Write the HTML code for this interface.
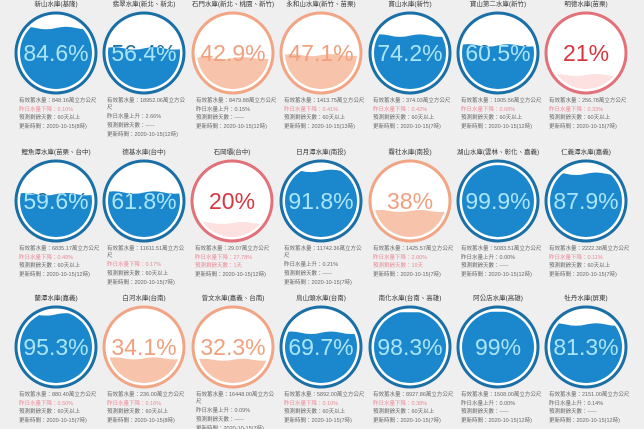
<!DOCTYPE html>
<html><head><meta charset="utf-8"><style>
html,body{margin:0;padding:0;background:#efefef;}
svg{display:block;font-family:"Liberation Sans","Noto Sans CJK TC",sans-serif;}
.pb{font-size:23px;text-anchor:middle;}
.lb{font-size:6.5px;text-anchor:middle;fill:#333;}
.in{font-size:5.5px;fill:#666;}
.pk{fill:#e98a96;}
</style></head><body>
<svg width="644" height="429" viewBox="0 0 644 429" xmlns="http://www.w3.org/2000/svg">
<rect width="644" height="429" fill="#efefef"/>
<defs>
<clipPath id="c1"><path transform="translate(0,-25)" d="M-40,0 q10,-2.5 20,0 t20,0 t20,0 t20,0 V90 H-40 Z"/></clipPath>
<clipPath id="c2"><path transform="translate(0,-4.6)" d="M-40,0 q10,-2.5 20,0 t20,0 t20,0 t20,0 V90 H-40 Z"/></clipPath>
<clipPath id="c3"><path transform="translate(0,5.1)" d="M-40,0 q10,-2 20,0 t20,0 t20,0 t20,0 V90 H-40 Z"/></clipPath>
<clipPath id="c4"><path transform="translate(0,2.1)" d="M-40,0 q10,-2 20,0 t20,0 t20,0 t20,0 V90 H-40 Z"/></clipPath>
<clipPath id="c5"><path transform="translate(0,-17.4)" d="M-40,0 q10,-2.5 20,0 t20,0 t20,0 t20,0 V90 H-40 Z"/></clipPath>
<clipPath id="c6"><path transform="translate(0,-7.6)" d="M-40,0 q10,-2.5 20,0 t20,0 t20,0 t20,0 V90 H-40 Z"/></clipPath>
<clipPath id="c7"><path transform="translate(0,22)" d="M-40,0 q10,-2 20,0 t20,0 t20,0 t20,0 V90 H-40 Z"/></clipPath>
<clipPath id="c8"><path transform="translate(0,-6.9)" d="M-40,0 q10,-2.5 20,0 t20,0 t20,0 t20,0 V90 H-40 Z"/></clipPath>
<clipPath id="c9"><path transform="translate(0,-8.5)" d="M-40,0 q10,-2.5 20,0 t20,0 t20,0 t20,0 V90 H-40 Z"/></clipPath>
<clipPath id="c10"><path transform="translate(0,22)" d="M-40,0 q10,-2 20,0 t20,0 t20,0 t20,0 V90 H-40 Z"/></clipPath>
<clipPath id="c11"><path transform="translate(0,-30.1)" d="M-40,0 q10,-2.5 20,0 t20,0 t20,0 t20,0 V90 H-40 Z"/></clipPath>
<clipPath id="c12"><path transform="translate(0,10)" d="M-40,0 q10,-2 20,0 t20,0 t20,0 t20,0 V90 H-40 Z"/></clipPath>
<clipPath id="c13"><path transform="translate(0,-35.9)" d="M-40,0 V90 H40 V0 Z"/></clipPath>
<clipPath id="c14"><path transform="translate(0,-27.3)" d="M-40,0 q10,-2.5 20,0 t20,0 t20,0 t20,0 V90 H-40 Z"/></clipPath>
<clipPath id="c15"><path transform="translate(0,-32.6)" d="M-40,0 q10,-2.5 20,0 t20,0 t20,0 t20,0 V90 H-40 Z"/></clipPath>
<clipPath id="c16"><path transform="translate(0,11.4)" d="M-40,0 q10,-2 20,0 t20,0 t20,0 t20,0 V90 H-40 Z"/></clipPath>
<clipPath id="c17"><path transform="translate(0,12.7)" d="M-40,0 q10,-2 20,0 t20,0 t20,0 t20,0 V90 H-40 Z"/></clipPath>
<clipPath id="c18"><path transform="translate(0,-14.2)" d="M-40,0 q10,-2.5 20,0 t20,0 t20,0 t20,0 V90 H-40 Z"/></clipPath>
<clipPath id="c19"><path transform="translate(0,-34.8)" d="M-40,0 V90 H40 V0 Z"/></clipPath>
<clipPath id="c20"><path transform="translate(0,-35.3)" d="M-40,0 V90 H40 V0 Z"/></clipPath>
<clipPath id="c21"><path transform="translate(0,-22.5)" d="M-40,0 q10,-2.5 20,0 t20,0 t20,0 t20,0 V90 H-40 Z"/></clipPath>
</defs>

<!-- Row 1 -->
<g transform="translate(56,53)">
<text class="lb" y="-47">新山水庫(基隆)</text>
<circle r="40" fill="#fff" stroke="#1a6fa6" stroke-width="3"/>
<text class="pb" y="8" fill="#1a6fa6">84.6%</text>
<circle r="36" fill="#1b87cc" clip-path="url(#c1)"/>
<text class="pb" y="8" fill="#a9e5f8" clip-path="url(#c1)">84.6%</text>
<text class="in" x="-37" y="49">有效蓄水量：848.16萬立方公尺</text>
<text class="in pk" x="-37" y="58">昨日水量下降：0.10%</text>
<text class="in" x="-37" y="66">預測剩餘天數：60天以上</text>
<text class="in" x="-37" y="75">更新時間：2020-10-15(8時)</text>
</g>
<g transform="translate(144,53)">
<text class="lb" y="-47">翡翠水庫(新北、新北)</text>
<circle r="40" fill="#fff" stroke="#1a6fa6" stroke-width="3"/>
<text class="pb" y="8" fill="#1a6fa6">56.4%</text>
<circle r="36" fill="#1b87cc" clip-path="url(#c2)"/>
<text class="pb" y="8" fill="#a9e5f8" clip-path="url(#c2)">56.4%</text>
<text class="in" x="-37" y="49">有效蓄水量：18952.06萬立方公</text>
<text class="in" x="-37" y="56">尺</text>
<text class="in" x="-37" y="65" fill="#5a7fb0">昨日水量上升：2.66%</text>
<text class="in" x="-37" y="74">預測剩餘天數：-----</text>
<text class="in" x="-37" y="83">更新時間：2020-10-15(12時)</text>
</g>
<g transform="translate(233,53)">
<text class="lb" y="-47">石門水庫(新北、桃園、新竹)</text>
<circle r="40" fill="#fff" stroke="#f2a584" stroke-width="3"/>
<circle r="36" fill="#f7c3aa" clip-path="url(#c3)"/>
<text class="pb" y="8" fill="#f0a07e">42.9%</text>
<text class="in" x="-37" y="49">有效蓄水量：8479.88萬立方公尺</text>
<text class="in" x="-37" y="58">昨日水量上升：0.15%</text>
<text class="in" x="-37" y="66">預測剩餘天數：-----</text>
<text class="in" x="-37" y="75">更新時間：2020-10-15(12時)</text>
</g>
<g transform="translate(321,53)">
<text class="lb" y="-47">永和山水庫(新竹、苗栗)</text>
<circle r="40" fill="#fff" stroke="#f2a584" stroke-width="3"/>
<circle r="36" fill="#f7c3aa" clip-path="url(#c4)"/>
<text class="pb" y="8" fill="#f0a07e">47.1%</text>
<text class="in" x="-37" y="49">有效蓄水量：1413.75萬立方公尺</text>
<text class="in pk" x="-37" y="58">昨日水量下降：0.41%</text>
<text class="in" x="-37" y="66">預測剩餘天數：60天以上</text>
<text class="in" x="-37" y="75">更新時間：2020-10-15(13時)</text>
</g>
<g transform="translate(410,53)">
<text class="lb" y="-47">寶山水庫(新竹)</text>
<circle r="40" fill="#fff" stroke="#1a6fa6" stroke-width="3"/>
<text class="pb" y="8" fill="#1a6fa6">74.2%</text>
<circle r="36" fill="#1b87cc" clip-path="url(#c5)"/>
<text class="pb" y="8" fill="#a9e5f8" clip-path="url(#c5)">74.2%</text>
<text class="in" x="-37" y="49">有效蓄水量：374.03萬立方公尺</text>
<text class="in pk" x="-37" y="58">昨日水量下降：0.42%</text>
<text class="in" x="-37" y="66">預測剩餘天數：60天以上</text>
<text class="in" x="-37" y="75">更新時間：2020-10-15(7時)</text>
</g>
<g transform="translate(498,53)">
<text class="lb" y="-47">寶山第二水庫(新竹)</text>
<circle r="40" fill="#fff" stroke="#1a6fa6" stroke-width="3"/>
<text class="pb" y="8" fill="#1a6fa6">60.5%</text>
<circle r="36" fill="#1b87cc" clip-path="url(#c6)"/>
<text class="pb" y="8" fill="#a9e5f8" clip-path="url(#c6)">60.5%</text>
<text class="in" x="-37" y="49">有效蓄水量：1905.56萬立方公尺</text>
<text class="in pk" x="-37" y="58">昨日水量下降：0.68%</text>
<text class="in" x="-37" y="66">預測剩餘天數：60天以上</text>
<text class="in" x="-37" y="75">更新時間：2020-10-15(12時)</text>
</g>
<g transform="translate(586,53)">
<text class="lb" y="-47">明德水庫(苗栗)</text>
<circle r="40" fill="#fff" stroke="#e2717a" stroke-width="3"/>
<circle r="36" fill="#fde0e0" clip-path="url(#c7)"/>
<text class="pb" y="8" fill="#d6363f">21%</text>
<text class="in" x="-37" y="49">有效蓄水量：256.78萬立方公尺</text>
<text class="in pk" x="-37" y="58">昨日水量下降：0.33%</text>
<text class="in" x="-37" y="66">預測剩餘天數：60天以上</text>
<text class="in" x="-37" y="75">更新時間：2020-10-15(7時)</text>
</g>

<!-- Row 2 -->
<g transform="translate(56,201)">
<text class="lb" y="-47">鯉魚潭水庫(苗栗、台中)</text>
<circle r="40" fill="#fff" stroke="#1a6fa6" stroke-width="3"/>
<text class="pb" y="8" fill="#1a6fa6">59.6%</text>
<circle r="36" fill="#1b87cc" clip-path="url(#c8)"/>
<text class="pb" y="8" fill="#a9e5f8" clip-path="url(#c8)">59.6%</text>
<text class="in" x="-37" y="49">有效蓄水量：6835.17萬立方公尺</text>
<text class="in pk" x="-37" y="58">昨日水量下降：0.49%</text>
<text class="in" x="-37" y="66">預測剩餘天數：60天以上</text>
<text class="in" x="-37" y="75">更新時間：2020-10-15(12時)</text>
</g>
<g transform="translate(144,201)">
<text class="lb" y="-47">德基水庫(台中)</text>
<circle r="40" fill="#fff" stroke="#1a6fa6" stroke-width="3"/>
<text class="pb" y="8" fill="#1a6fa6">61.8%</text>
<circle r="36" fill="#1b87cc" clip-path="url(#c9)"/>
<text class="pb" y="8" fill="#a9e5f8" clip-path="url(#c9)">61.8%</text>
<text class="in" x="-37" y="49">有效蓄水量：11611.51萬立方公</text>
<text class="in" x="-37" y="56">尺</text>
<text class="in pk" x="-37" y="65">昨日水量下降：0.17%</text>
<text class="in" x="-37" y="74">預測剩餘天數：60天以上</text>
<text class="in" x="-37" y="83">更新時間：2020-10-15(7時)</text>
</g>
<g transform="translate(232,201)">
<text class="lb" y="-47">石岡壩(台中)</text>
<circle r="40" fill="#fff" stroke="#e2717a" stroke-width="3"/>
<circle r="36" fill="#fde0e0" clip-path="url(#c10)"/>
<text class="pb" y="8" fill="#d6363f">20%</text>
<text class="in" x="-37" y="49">有效蓄水量：29.07萬立方公尺</text>
<text class="in pk" x="-37" y="58">昨日水量下降：27.78%</text>
<text class="in pk" x="-37" y="66">預測剩餘天數：1天</text>
<text class="in" x="-37" y="75">更新時間：2020-10-15(12時)</text>
</g>
<g transform="translate(321,201)">
<text class="lb" y="-47">日月潭水庫(南投)</text>
<circle r="40" fill="#fff" stroke="#1a6fa6" stroke-width="3"/>
<text class="pb" y="8" fill="#1a6fa6">91.8%</text>
<circle r="36" fill="#1b87cc" clip-path="url(#c11)"/>
<text class="pb" y="8" fill="#a9e5f8" clip-path="url(#c11)">91.8%</text>
<text class="in" x="-37" y="49">有效蓄水量：11742.36萬立方公</text>
<text class="in" x="-37" y="56">尺</text>
<text class="in" x="-37" y="65" fill="#5a7fb0">昨日水量上升：0.21%</text>
<text class="in" x="-37" y="74">預測剩餘天數：-----</text>
<text class="in" x="-37" y="83">更新時間：2020-10-15(7時)</text>
</g>
<g transform="translate(410,201)">
<text class="lb" y="-47">霧社水庫(南投)</text>
<circle r="40" fill="#fff" stroke="#f2a584" stroke-width="3"/>
<circle r="36" fill="#f7c3aa" clip-path="url(#c12)"/>
<text class="pb" y="8" fill="#f0a07e">38%</text>
<text class="in" x="-37" y="49">有效蓄水量：1425.57萬立方公尺</text>
<text class="in pk" x="-37" y="58">昨日水量下降：2.00%</text>
<text class="in pk" x="-37" y="66">預測剩餘天數：19天</text>
<text class="in" x="-37" y="75">更新時間：2020-10-15(7時)</text>
</g>
<g transform="translate(498,201)">
<text class="lb" y="-47">湖山水庫(雲林、彰化、嘉義)</text>
<circle r="40" fill="#fff" stroke="#1a6fa6" stroke-width="3"/>
<text class="pb" y="8" fill="#1a6fa6">99.9%</text>
<circle r="36" fill="#1b87cc" clip-path="url(#c13)"/>
<text class="pb" y="8" fill="#a9e5f8" clip-path="url(#c13)">99.9%</text>
<text class="in" x="-37" y="49">有效蓄水量：5083.51萬立方公尺</text>
<text class="in" x="-37" y="58" fill="#5a7fb0">昨日水量上升：0.00%</text>
<text class="in" x="-37" y="66">預測剩餘天數：-----</text>
<text class="in" x="-37" y="75">更新時間：2020-10-15(12時)</text>
</g>
<g transform="translate(586,201)">
<text class="lb" y="-47">仁義潭水庫(嘉義)</text>
<circle r="40" fill="#fff" stroke="#1a6fa6" stroke-width="3"/>
<text class="pb" y="8" fill="#1a6fa6">87.9%</text>
<circle r="36" fill="#1b87cc" clip-path="url(#c14)"/>
<text class="pb" y="8" fill="#a9e5f8" clip-path="url(#c14)">87.9%</text>
<text class="in" x="-37" y="49">有效蓄水量：2222.38萬立方公尺</text>
<text class="in pk" x="-37" y="58">昨日水量下降：0.11%</text>
<text class="in" x="-37" y="66">預測剩餘天數：60天以上</text>
<text class="in" x="-37" y="75">更新時間：2020-10-15(7時)</text>
</g>

<!-- Row 3 -->
<g transform="translate(56,347)">
<text class="lb" y="-47">蘭潭水庫(嘉義)</text>
<circle r="40" fill="#fff" stroke="#1a6fa6" stroke-width="3"/>
<text class="pb" y="8" fill="#1a6fa6">95.3%</text>
<circle r="36" fill="#1b87cc" clip-path="url(#c15)"/>
<text class="pb" y="8" fill="#a9e5f8" clip-path="url(#c15)">95.3%</text>
<text class="in" x="-37" y="49">有效蓄水量：880.40萬立方公尺</text>
<text class="in pk" x="-37" y="58">昨日水量下降：0.50%</text>
<text class="in" x="-37" y="66">預測剩餘天數：60天以上</text>
<text class="in" x="-37" y="75">更新時間：2020-10-15(7時)</text>
</g>
<g transform="translate(144,347)">
<text class="lb" y="-47">白河水庫(台南)</text>
<circle r="40" fill="#fff" stroke="#f2a584" stroke-width="3"/>
<circle r="36" fill="#f7c3aa" clip-path="url(#c16)"/>
<text class="pb" y="8" fill="#f0a07e">34.1%</text>
<text class="in" x="-37" y="49">有效蓄水量：236.00萬立方公尺</text>
<text class="in pk" x="-37" y="58">昨日水量下降：0.16%</text>
<text class="in" x="-37" y="66">預測剩餘天數：60天以上</text>
<text class="in" x="-37" y="75">更新時間：2020-10-15(8時)</text>
</g>
<g transform="translate(233,347)">
<text class="lb" y="-47">曾文水庫(嘉義、台南)</text>
<circle r="40" fill="#fff" stroke="#f2a584" stroke-width="3"/>
<circle r="36" fill="#f7c3aa" clip-path="url(#c17)"/>
<text class="pb" y="8" fill="#f0a07e">32.3%</text>
<text class="in" x="-37" y="49">有效蓄水量：16448.00萬立方公</text>
<text class="in" x="-37" y="56">尺</text>
<text class="in" x="-37" y="65" fill="#5a7fb0">昨日水量上升：0.09%</text>
<text class="in" x="-37" y="74">預測剩餘天數：-----</text>
<text class="in" x="-37" y="83">更新時間：2020-10-15(7時)</text>
</g>
<g transform="translate(321,347)">
<text class="lb" y="-47">烏山頭水庫(台南)</text>
<circle r="40" fill="#fff" stroke="#1a6fa6" stroke-width="3"/>
<text class="pb" y="8" fill="#1a6fa6">69.7%</text>
<circle r="36" fill="#1b87cc" clip-path="url(#c18)"/>
<text class="pb" y="8" fill="#a9e5f8" clip-path="url(#c18)">69.7%</text>
<text class="in" x="-37" y="49">有效蓄水量：5892.00萬立方公尺</text>
<text class="in pk" x="-37" y="58">昨日水量下降：0.10%</text>
<text class="in" x="-37" y="66">預測剩餘天數：60天以上</text>
<text class="in" x="-37" y="75">更新時間：2020-10-15(7時)</text>
</g>
<g transform="translate(410,347)">
<text class="lb" y="-47">南化水庫(台南、高雄)</text>
<circle r="40" fill="#fff" stroke="#1a6fa6" stroke-width="3"/>
<text class="pb" y="8" fill="#1a6fa6">98.3%</text>
<circle r="36" fill="#1b87cc" clip-path="url(#c19)"/>
<text class="pb" y="8" fill="#a9e5f8" clip-path="url(#c19)">98.3%</text>
<text class="in" x="-37" y="49">有效蓄水量：8927.86萬立方公尺</text>
<text class="in pk" x="-37" y="58">昨日水量下降：0.38%</text>
<text class="in" x="-37" y="66">預測剩餘天數：60天以上</text>
<text class="in" x="-37" y="75">更新時間：2020-10-15(7時)</text>
</g>
<g transform="translate(498,347)">
<text class="lb" y="-47">阿公店水庫(高雄)</text>
<circle r="40" fill="#fff" stroke="#1a6fa6" stroke-width="3"/>
<text class="pb" y="8" fill="#1a6fa6">99%</text>
<circle r="36" fill="#1b87cc" clip-path="url(#c20)"/>
<text class="pb" y="8" fill="#a9e5f8" clip-path="url(#c20)">99%</text>
<text class="in" x="-37" y="49">有效蓄水量：1508.00萬立方公尺</text>
<text class="in" x="-37" y="58" fill="#5a7fb0">昨日水量上升：0.00%</text>
<text class="in" x="-37" y="66">預測剩餘天數：-----</text>
<text class="in" x="-37" y="75">更新時間：2020-10-15(12時)</text>
</g>
<g transform="translate(586,347)">
<text class="lb" y="-47">牡丹水庫(屏東)</text>
<circle r="40" fill="#fff" stroke="#1a6fa6" stroke-width="3"/>
<text class="pb" y="8" fill="#1a6fa6">81.3%</text>
<circle r="36" fill="#1b87cc" clip-path="url(#c21)"/>
<text class="pb" y="8" fill="#a9e5f8" clip-path="url(#c21)">81.3%</text>
<text class="in" x="-37" y="49">有效蓄水量：2151.00萬立方公尺</text>
<text class="in" x="-37" y="58" fill="#5a7fb0">昨日水量上升：0.14%</text>
<text class="in" x="-37" y="66">預測剩餘天數：-----</text>
<text class="in" x="-37" y="75">更新時間：2020-10-15(12時)</text>
</g>
</svg>
</body></html>
